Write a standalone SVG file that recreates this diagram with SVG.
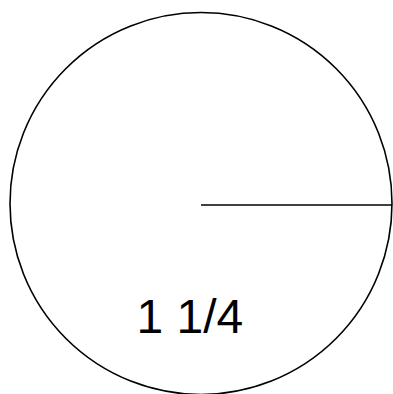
<svg xmlns="http://www.w3.org/2000/svg" width="393" height="394" viewBox="0 0 393 394">
<style>
.s{fill:none;stroke:#000;stroke-width:1.6}
.t{font-family:Arial,'Liberation Sans',Helvetica,sans-serif;font-size:48px;fill:#000}
</style>
<rect width="393" height="394" fill="#fff"/>
<g id="circle"><circle class="s" cx="201" cy="203.5" r="191"/></g>
<g id="connectors"><line class="s" x1="201" y1="205" x2="392" y2="205"/></g>
<g id="label"><text class="t" x="136.5" y="333">1 1/4</text></g>
</svg>
